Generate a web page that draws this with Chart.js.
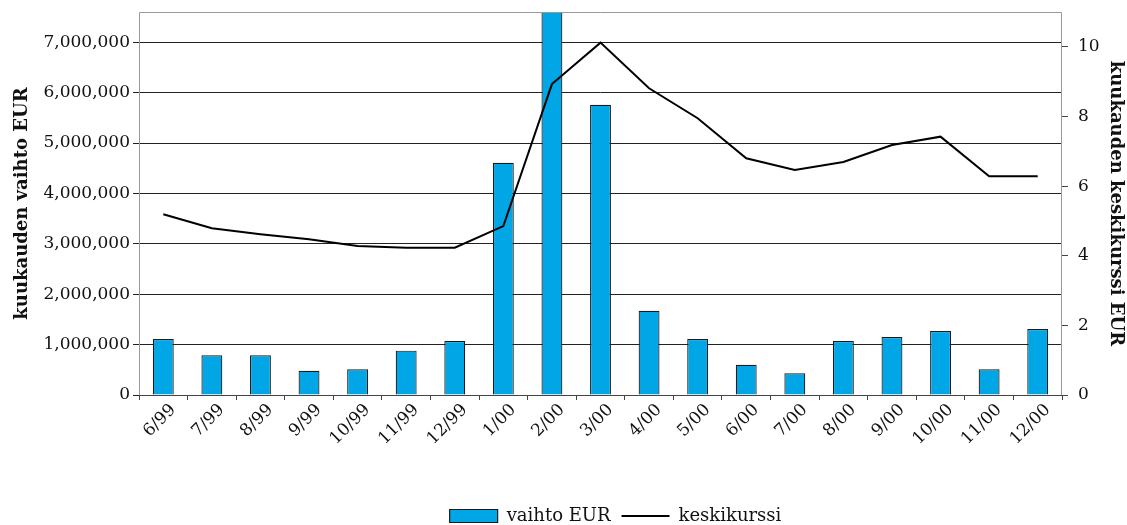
<!DOCTYPE html>
<html>
<head>
<meta charset="utf-8">
<script src="https://cdn.jsdelivr.net/npm/chart.js@4"></script>
<style>
html,body{margin:0;padding:0;background:#fff;}
#wrap{width:1127px;height:525px;position:relative;}
</style>
</head>
<body>
<div id="wrap"><canvas id="c" width="1127" height="525"></canvas></div>
<script>
const months = ['6/99','7/99','8/99','9/99','10/99','11/99','12/99','1/00','2/00','3/00','4/00','5/00','6/00','7/00','8/00','9/00','10/00','11/00','12/00'];
const vaihtoEUR = [1110000,790000,790000,480000,510000,880000,1070000,4610000,7650000,5760000,1670000,1110000,600000,430000,1070000,1150000,1270000,510000,1310000];
const keskikurssi = [5.19,4.79,4.62,4.47,4.28,4.23,4.23,4.85,8.93,10.12,8.81,7.95,6.80,6.46,6.69,7.18,7.42,6.28,6.28];
const leftTicks = [0,1000000,2000000,3000000,4000000,5000000,6000000,7000000];
const rightTicks = [0,2,4,6,8,10];
const leftTitle = 'kuukauden vaihto EUR';
const rightTitle = 'kuukauden keskikurssi EUR';

const FONT = "'DejaVu Serif', serif";
Chart.defaults.font.family = FONT;
Chart.defaults.color = '#111';

const frame = {
  id: 'frame',
  afterLayout(chart) {
    const lg = chart.legend;
    if (lg) { lg.top += 10; lg.bottom += 10; lg.left += 52; lg.right += 52; }
  },
  afterDatasetsDraw(chart) {
    const a = chart.chartArea, ctx = chart.ctx;
    ctx.save();
    ctx.strokeStyle = '#999';
    ctx.lineWidth = 1;
    ctx.beginPath();
    ctx.moveTo(a.left + 0.5, a.bottom);
    ctx.lineTo(a.left + 0.5, a.top + 0.5);
    ctx.lineTo(a.right - 0.5, a.top + 0.5);
    ctx.lineTo(a.right - 0.5, a.bottom);
    ctx.stroke();
    ctx.restore();
  }
};

new Chart(document.getElementById('c'), {
  data: {
    labels: months,
    datasets: [
      {
        type: 'bar', label: 'vaihto EUR', data: vaihtoEUR, yAxisID: 'y', order: 1,
        backgroundColor: '#00a6e6', borderColor: '#1a1a1a', borderWidth: 1.2,
        barPercentage: 0.43, categoryPercentage: 1, pointStyle: 'rect'
      },
      {
        type: 'line', label: 'keskikurssi', data: keskikurssi, yAxisID: 'y1', order: 0,
        borderColor: '#000', backgroundColor: '#000', borderWidth: 2, tension: 0,
        pointRadius: 0, pointStyle: 'line', fill: false
      }
    ]
  },
  options: {
    responsive: false, animation: false,
    layout: { padding: { top: 12, left: 0, right: 0, bottom: 0 } },
    plugins: {
      tooltip: { enabled: false },
      legend: {
        position: 'bottom',
        labels: {
          usePointStyle: true, pointStyleWidth: 48, boxHeight: 13,
          padding: 11, color: '#111',
          font: { size: 18, family: FONT },
          sort: (a, b) => a.datasetIndex - b.datasetIndex
        }
      }
    },
    scales: {
      x: {
        offset: true,
        grid: { offset: true, drawOnChartArea: false, color: '#444', tickLength: 5 },
        border: { color: '#444' },
        ticks: { maxRotation: 45, minRotation: 45, autoSkip: false, font: { size: 17 }, color: '#111', padding: 0, labelOffset: 10 },
        afterFit(s) { s.height = 91; }
      },
      y: {
        position: 'left', min: 0, max: 7600000,
        grid: { color: '#222', tickLength: 6 },
        border: { display: false },
        afterBuildTicks(s) { s.ticks = leftTicks.map(v => ({ value: v })); },
        ticks: { font: { size: 17 }, color: '#111', padding: 3,
          callback: v => v.toLocaleString('en-US') },
        title: { display: true, text: leftTitle, font: { size: 18, weight: 'bold' }, color: '#111', padding: { top: 12, bottom: 0 } },
        afterFit(s) { s.width = 139; s.paddingTop = 0; s.paddingBottom = 0; }
      },
      y1: {
        position: 'right', min: 0, max: 11,
        grid: { drawOnChartArea: false, color: '#444', tickLength: 6 },
        border: { display: false },
        afterBuildTicks(s) { s.ticks = rightTicks.map(v => ({ value: v })); },
        ticks: { font: { size: 17 }, color: '#111', padding: 10 },
        title: { display: true, text: rightTitle, font: { size: 18, weight: 'bold' }, color: '#111', padding: { top: 1, bottom: 0 } },
        afterFit(s) { s.width = 65; s.paddingTop = 0; s.paddingBottom = 0; }
      }
    }
  },
  plugins: [frame]
});
</script>
</body>
</html>
